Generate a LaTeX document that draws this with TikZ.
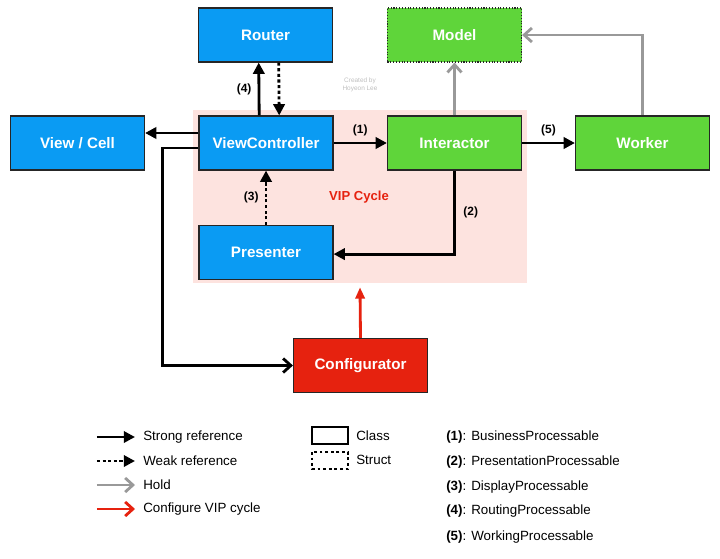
\documentclass[tikz,border=0pt]{standalone}
\usepackage{fontspec}
\setmainfont{Liberation Sans}
\usetikzlibrary{arrows.meta}
\definecolor{vblue}{HTML}{0A9BF3}
\definecolor{vgreen}{HTML}{5FD53A}
\definecolor{vred}{HTML}{E6220F}
\definecolor{vpink}{HTML}{FDE3DF}
\definecolor{vgray}{HTML}{999999}
\tikzset{
  >={Triangle[length=8pt,width=8pt]},
  vbox/.style={draw=black!85, line width=0.8pt, minimum width=3.35cm,
               minimum height=1.35cm, text=white,
               font=\fontsize{10.8}{13}\selectfont\bfseries},
  vview/.style={vbox, fill=vblue},
  vlogic/.style={vbox, fill=vgreen},
  vmodel/.style={vlogic, dash pattern=on 0.8pt off 1.2pt},
  vconfbox/.style={vbox, fill=vred},
  vregion/.style={fill=vpink, minimum width=8.35cm, minimum height=4.325cm},
  vstrong/.style={->, line width=2pt},
  vweak/.style={vstrong, dash pattern=on 2.2pt off 1.8pt},
  vopen/.style={-{Straight Barb[length=5.5pt,width=10pt]}, line width=2pt},
  vhold/.style={vopen, vgray},
  vconf/.style={vopen, vred},
  vnum/.style={font=\fontsize{8.5}{10}\selectfont\bfseries},
  vlbl/.style={font=\fontsize{9.5}{11}\selectfont, inner sep=0pt, anchor=west},
}
\begin{document}
\begin{tikzpicture}[x=0.025cm, y=-0.025cm]

  \useasboundingbox (0,0) rectangle (720,558);

  % ciclo VIP
  \node[vregion] (vip) at (360,196.5) {};
  \node[text=vred, font=\fontsize{9.3}{11}\selectfont\bfseries] (viplbl) at (359,197) {VIP Cycle};
  \node[text=black!25, font=\fontsize{4.6}{5.6}\selectfont, align=center] (credit) at (360,85)
    {Created by\\Hoyeon Lee};

  % classes
  \node[vview]    (router)    at (265.5,35)   {Router};
  \node[vmodel]   (model)     at (454.5,35)   {Model};
  \node[vview]    (view)      at (77.5,143)   {View / Cell};
  \node[vview]    (vc)        at (266,143)    {ViewController};
  \node[vlogic]   (inter)     at (454.5,143)  {Interactor};
  \node[vlogic]   (worker)    at (642.5,143)  {Worker};
  \node[vview]    (presenter) at (266,252.5)  {Presenter};
  \node[vconfbox] (config)    at (360.5,365.5) {Configurator};

  % referencias
  \draw[vstrong] ([xshift=-0.17cm]vc.north) -- ([xshift=-0.17cm]router.south)
    node[vnum, midway, left=1pt] {(4)};
  \draw[vweak] ([xshift=0.33cm]router.south) -- ([xshift=0.33cm]vc.north);
  \draw[vstrong] ([yshift=0.25cm]vc.west) -- ([yshift=0.25cm]view.east);
  \draw[vopen] ([yshift=-0.125cm]vc.west) -- ++(-36,0) |- (config.west);
  \draw[vstrong] (vc.east) -- (inter.west) node[vnum, midway, above=1pt] {(1)};
  \draw[vstrong] (inter.east) -- (worker.west) node[vnum, midway, above=1pt] {(5)};
  \draw[vstrong] (inter.south) |- ([yshift=-0.04cm]presenter.east)
    node[vnum, pos=0.25, right=2pt] {(2)};
  \draw[vweak] (presenter.north) -- (vc.south) node[vnum, midway, left=1pt] {(3)};
  \draw[vhold] (inter.north) -- (model.south);
  \draw[vhold] (worker.north) |- (model.east);
  \draw[-{Triangle[length=8pt,width=6.5pt]}, line width=2pt, vred]
    (config.north) -- ([yshift=-0.1cm]vip.south);

  % legenda
  \foreach \y/\s/\t in {437/vstrong/Strong reference, 461/vweak/Weak reference,
                        485/vhold/Hold, 509/vconf/Configure VIP cycle} {
    \node[vlbl] (lg\y) at (143,\y) {\t};
    \draw[\s] ([xshift=-1.15cm]lg\y.west) -- ([xshift=-0.2cm]lg\y.west);
  }
  \draw[line width=0.8pt] (312,427) rectangle (348,444);
  \draw[line width=0.8pt, dash pattern=on 2pt off 2pt] (312,452) rectangle (348,469);
  \node[vlbl] (lgclass)  at (356,436) {Class};
  \node[vlbl] (lgstruct) at (356,460) {Struct};
  \foreach \n/\t/\y in {1/BusinessProcessable/437, 2/PresentationProcessable/462,
                        3/DisplayProcessable/487, 4/RoutingProcessable/511,
                        5/WorkingProcessable/537}
    \node[vlbl] (num\n) at (446,\y) {\textbf{(\n)}: \t};

\end{tikzpicture}
\end{document}
